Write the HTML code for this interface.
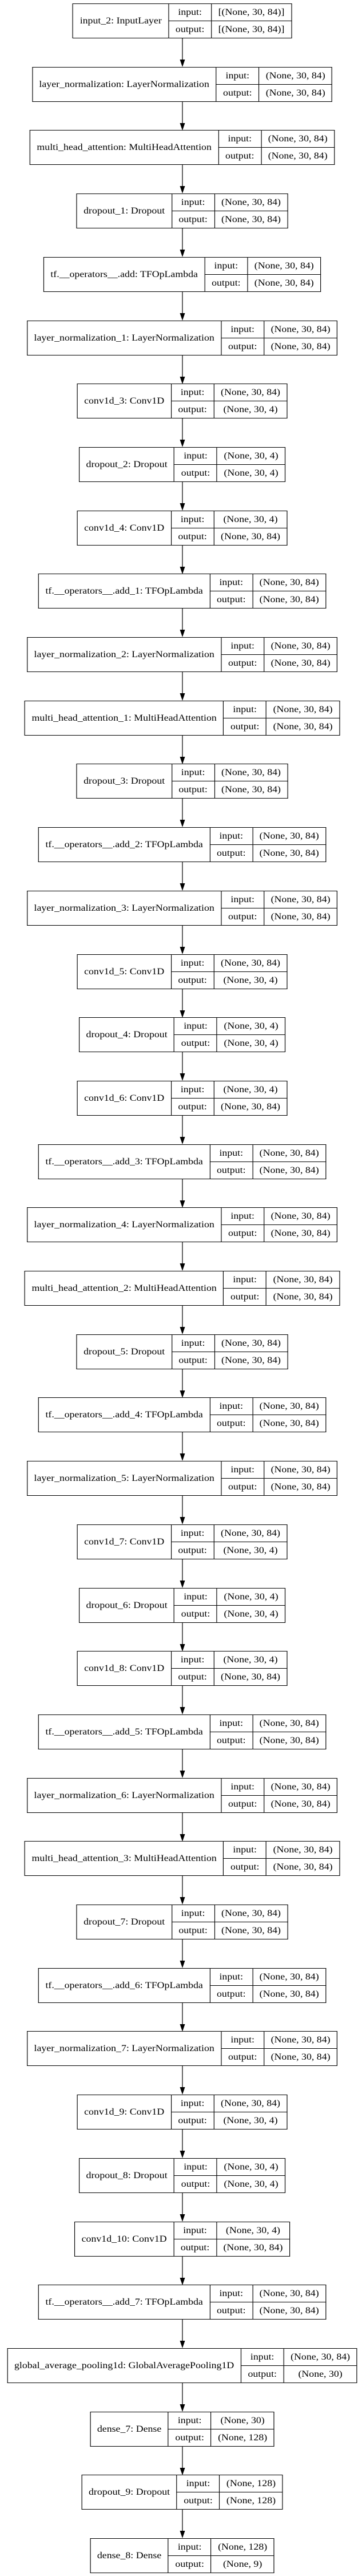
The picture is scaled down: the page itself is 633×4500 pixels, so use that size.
<!DOCTYPE html>
<html><head><meta charset="utf-8"><style>
html,body{margin:0;padding:0;background:#fff;}
body{width:633px;height:4500px;position:relative;overflow:hidden;}
#c{position:absolute;left:0;top:0;width:554px;height:4500px;transform:scaleX(1.15);transform-origin:0 0;}
.n{position:absolute;left:0;width:554px;display:flex;justify-content:center;}
table{border-collapse:collapse;font-family:"Liberation Serif",serif;font-size:15.5px;color:#000;}
td{border:1.2px solid #000;height:29px;padding:0 10px;text-align:center;white-space:nowrap;line-height:1;}
svg{position:absolute;left:0;top:0;}
</style></head><body>
<div id="c">
<div class="n" style="top:6px"><table><tr><td rowspan="2">input_2: InputLayer</td><td>input:</td><td>[(None, 30, 84)]</td></tr><tr><td>output:</td><td>[(None, 30, 84)]</td></tr></table></div>
<div class="n" style="top:117px"><table><tr><td rowspan="2">layer_normalization: LayerNormalization</td><td>input:</td><td>(None, 30, 84)</td></tr><tr><td>output:</td><td>(None, 30, 84)</td></tr></table></div>
<div class="n" style="top:227px"><table><tr><td rowspan="2">multi_head_attention: MultiHeadAttention</td><td>input:</td><td>(None, 30, 84)</td></tr><tr><td>output:</td><td>(None, 30, 84)</td></tr></table></div>
<div class="n" style="top:338px"><table><tr><td rowspan="2">dropout_1: Dropout</td><td>input:</td><td>(None, 30, 84)</td></tr><tr><td>output:</td><td>(None, 30, 84)</td></tr></table></div>
<div class="n" style="top:449px"><table><tr><td rowspan="2">tf.__operators__.add: TFOpLambda</td><td>input:</td><td>(None, 30, 84)</td></tr><tr><td>output:</td><td>(None, 30, 84)</td></tr></table></div>
<div class="n" style="top:560px"><table><tr><td rowspan="2">layer_normalization_1: LayerNormalization</td><td>input:</td><td>(None, 30, 84)</td></tr><tr><td>output:</td><td>(None, 30, 84)</td></tr></table></div>
<div class="n" style="top:670px"><table><tr><td rowspan="2">conv1d_3: Conv1D</td><td>input:</td><td>(None, 30, 84)</td></tr><tr><td>output:</td><td>(None, 30, 4)</td></tr></table></div>
<div class="n" style="top:781px"><table><tr><td rowspan="2">dropout_2: Dropout</td><td>input:</td><td>(None, 30, 4)</td></tr><tr><td>output:</td><td>(None, 30, 4)</td></tr></table></div>
<div class="n" style="top:892px"><table><tr><td rowspan="2">conv1d_4: Conv1D</td><td>input:</td><td>(None, 30, 4)</td></tr><tr><td>output:</td><td>(None, 30, 84)</td></tr></table></div>
<div class="n" style="top:1002px"><table><tr><td rowspan="2">tf.__operators__.add_1: TFOpLambda</td><td>input:</td><td>(None, 30, 84)</td></tr><tr><td>output:</td><td>(None, 30, 84)</td></tr></table></div>
<div class="n" style="top:1113px"><table><tr><td rowspan="2">layer_normalization_2: LayerNormalization</td><td>input:</td><td>(None, 30, 84)</td></tr><tr><td>output:</td><td>(None, 30, 84)</td></tr></table></div>
<div class="n" style="top:1224px"><table><tr><td rowspan="2">multi_head_attention_1: MultiHeadAttention</td><td>input:</td><td>(None, 30, 84)</td></tr><tr><td>output:</td><td>(None, 30, 84)</td></tr></table></div>
<div class="n" style="top:1334px"><table><tr><td rowspan="2">dropout_3: Dropout</td><td>input:</td><td>(None, 30, 84)</td></tr><tr><td>output:</td><td>(None, 30, 84)</td></tr></table></div>
<div class="n" style="top:1445px"><table><tr><td rowspan="2">tf.__operators__.add_2: TFOpLambda</td><td>input:</td><td>(None, 30, 84)</td></tr><tr><td>output:</td><td>(None, 30, 84)</td></tr></table></div>
<div class="n" style="top:1556px"><table><tr><td rowspan="2">layer_normalization_3: LayerNormalization</td><td>input:</td><td>(None, 30, 84)</td></tr><tr><td>output:</td><td>(None, 30, 84)</td></tr></table></div>
<div class="n" style="top:1667px"><table><tr><td rowspan="2">conv1d_5: Conv1D</td><td>input:</td><td>(None, 30, 84)</td></tr><tr><td>output:</td><td>(None, 30, 4)</td></tr></table></div>
<div class="n" style="top:1777px"><table><tr><td rowspan="2">dropout_4: Dropout</td><td>input:</td><td>(None, 30, 4)</td></tr><tr><td>output:</td><td>(None, 30, 4)</td></tr></table></div>
<div class="n" style="top:1888px"><table><tr><td rowspan="2">conv1d_6: Conv1D</td><td>input:</td><td>(None, 30, 4)</td></tr><tr><td>output:</td><td>(None, 30, 84)</td></tr></table></div>
<div class="n" style="top:1999px"><table><tr><td rowspan="2">tf.__operators__.add_3: TFOpLambda</td><td>input:</td><td>(None, 30, 84)</td></tr><tr><td>output:</td><td>(None, 30, 84)</td></tr></table></div>
<div class="n" style="top:2109px"><table><tr><td rowspan="2">layer_normalization_4: LayerNormalization</td><td>input:</td><td>(None, 30, 84)</td></tr><tr><td>output:</td><td>(None, 30, 84)</td></tr></table></div>
<div class="n" style="top:2220px"><table><tr><td rowspan="2">multi_head_attention_2: MultiHeadAttention</td><td>input:</td><td>(None, 30, 84)</td></tr><tr><td>output:</td><td>(None, 30, 84)</td></tr></table></div>
<div class="n" style="top:2331px"><table><tr><td rowspan="2">dropout_5: Dropout</td><td>input:</td><td>(None, 30, 84)</td></tr><tr><td>output:</td><td>(None, 30, 84)</td></tr></table></div>
<div class="n" style="top:2441px"><table><tr><td rowspan="2">tf.__operators__.add_4: TFOpLambda</td><td>input:</td><td>(None, 30, 84)</td></tr><tr><td>output:</td><td>(None, 30, 84)</td></tr></table></div>
<div class="n" style="top:2552px"><table><tr><td rowspan="2">layer_normalization_5: LayerNormalization</td><td>input:</td><td>(None, 30, 84)</td></tr><tr><td>output:</td><td>(None, 30, 84)</td></tr></table></div>
<div class="n" style="top:2663px"><table><tr><td rowspan="2">conv1d_7: Conv1D</td><td>input:</td><td>(None, 30, 84)</td></tr><tr><td>output:</td><td>(None, 30, 4)</td></tr></table></div>
<div class="n" style="top:2774px"><table><tr><td rowspan="2">dropout_6: Dropout</td><td>input:</td><td>(None, 30, 4)</td></tr><tr><td>output:</td><td>(None, 30, 4)</td></tr></table></div>
<div class="n" style="top:2884px"><table><tr><td rowspan="2">conv1d_8: Conv1D</td><td>input:</td><td>(None, 30, 4)</td></tr><tr><td>output:</td><td>(None, 30, 84)</td></tr></table></div>
<div class="n" style="top:2995px"><table><tr><td rowspan="2">tf.__operators__.add_5: TFOpLambda</td><td>input:</td><td>(None, 30, 84)</td></tr><tr><td>output:</td><td>(None, 30, 84)</td></tr></table></div>
<div class="n" style="top:3106px"><table><tr><td rowspan="2">layer_normalization_6: LayerNormalization</td><td>input:</td><td>(None, 30, 84)</td></tr><tr><td>output:</td><td>(None, 30, 84)</td></tr></table></div>
<div class="n" style="top:3216px"><table><tr><td rowspan="2">multi_head_attention_3: MultiHeadAttention</td><td>input:</td><td>(None, 30, 84)</td></tr><tr><td>output:</td><td>(None, 30, 84)</td></tr></table></div>
<div class="n" style="top:3327px"><table><tr><td rowspan="2">dropout_7: Dropout</td><td>input:</td><td>(None, 30, 84)</td></tr><tr><td>output:</td><td>(None, 30, 84)</td></tr></table></div>
<div class="n" style="top:3438px"><table><tr><td rowspan="2">tf.__operators__.add_6: TFOpLambda</td><td>input:</td><td>(None, 30, 84)</td></tr><tr><td>output:</td><td>(None, 30, 84)</td></tr></table></div>
<div class="n" style="top:3548px"><table><tr><td rowspan="2">layer_normalization_7: LayerNormalization</td><td>input:</td><td>(None, 30, 84)</td></tr><tr><td>output:</td><td>(None, 30, 84)</td></tr></table></div>
<div class="n" style="top:3659px"><table><tr><td rowspan="2">conv1d_9: Conv1D</td><td>input:</td><td>(None, 30, 84)</td></tr><tr><td>output:</td><td>(None, 30, 4)</td></tr></table></div>
<div class="n" style="top:3770px"><table><tr><td rowspan="2">dropout_8: Dropout</td><td>input:</td><td>(None, 30, 4)</td></tr><tr><td>output:</td><td>(None, 30, 4)</td></tr></table></div>
<div class="n" style="top:3881px"><table><tr><td rowspan="2">conv1d_10: Conv1D</td><td>input:</td><td>(None, 30, 4)</td></tr><tr><td>output:</td><td>(None, 30, 84)</td></tr></table></div>
<div class="n" style="top:3991px"><table><tr><td rowspan="2">tf.__operators__.add_7: TFOpLambda</td><td>input:</td><td>(None, 30, 84)</td></tr><tr><td>output:</td><td>(None, 30, 84)</td></tr></table></div>
<div class="n" style="top:4102px"><table><tr><td rowspan="2">global_average_pooling1d: GlobalAveragePooling1D</td><td>input:</td><td>(None, 30, 84)</td></tr><tr><td>output:</td><td>(None, 30)</td></tr></table></div>
<div class="n" style="top:4213px"><table><tr><td rowspan="2">dense_7: Dense</td><td>input:</td><td>(None, 30)</td></tr><tr><td>output:</td><td>(None, 128)</td></tr></table></div>
<div class="n" style="top:4323px"><table><tr><td rowspan="2">dropout_9: Dropout</td><td>input:</td><td>(None, 128)</td></tr><tr><td>output:</td><td>(None, 128)</td></tr></table></div>
<div class="n" style="top:4434px"><table><tr><td rowspan="2">dense_8: Dense</td><td>input:</td><td>(None, 128)</td></tr><tr><td>output:</td><td>(None, 9)</td></tr></table></div>
</div>
<svg width="633" height="4500" viewBox="0 0 633 4500">
<defs><g id="a"><line x1="319" y1="0" x2="319" y2="38" stroke="#000" stroke-width="1.2"/><polygon points="314.5,37 323.5,37 319,50" fill="#000"/></g></defs>
<use href="#a" y="67"/><use href="#a" y="178"/><use href="#a" y="288"/><use href="#a" y="399"/><use href="#a" y="510"/>
<use href="#a" y="621"/><use href="#a" y="731"/><use href="#a" y="842"/><use href="#a" y="953"/><use href="#a" y="1063"/>
<use href="#a" y="1174"/><use href="#a" y="1285"/><use href="#a" y="1395"/><use href="#a" y="1506"/><use href="#a" y="1617"/>
<use href="#a" y="1728"/><use href="#a" y="1838"/><use href="#a" y="1949"/><use href="#a" y="2060"/><use href="#a" y="2170"/>
<use href="#a" y="2281"/><use href="#a" y="2392"/><use href="#a" y="2502"/><use href="#a" y="2613"/><use href="#a" y="2724"/>
<use href="#a" y="2835"/><use href="#a" y="2945"/><use href="#a" y="3056"/><use href="#a" y="3167"/><use href="#a" y="3277"/>
<use href="#a" y="3388"/><use href="#a" y="3499"/><use href="#a" y="3609"/><use href="#a" y="3720"/><use href="#a" y="3831"/>
<use href="#a" y="3942"/><use href="#a" y="4052"/><use href="#a" y="4163"/><use href="#a" y="4274"/><use href="#a" y="4384"/>
</svg>
</body></html>
